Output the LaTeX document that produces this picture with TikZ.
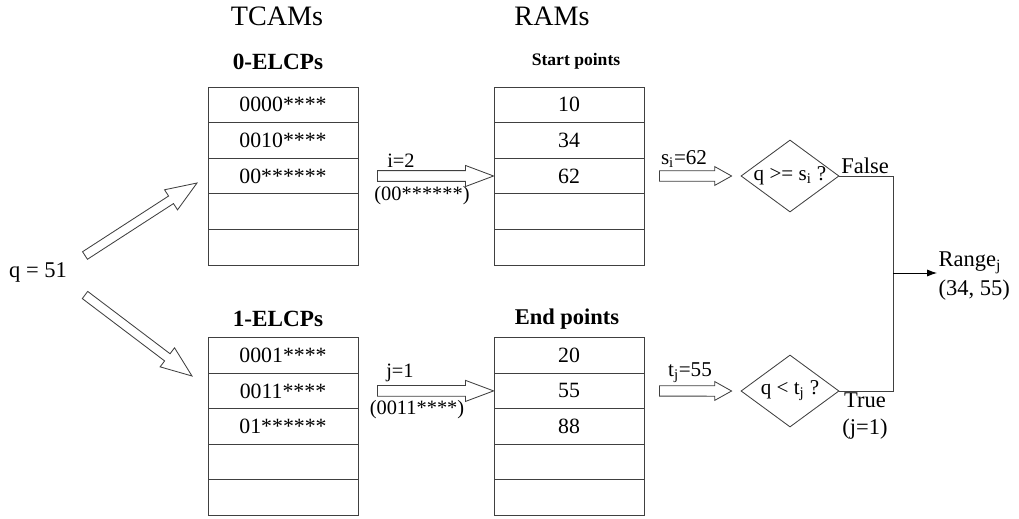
\documentclass[tikz,border=0pt]{standalone}
\usepackage{fontspec}
\setmainfont{Liberation Serif}
\usetikzlibrary{calc,shapes.geometric,arrows.meta}

\newcommand{\fsz}[1]{\fontsize{#1}{#1}\selectfont}
% hollow block arrow: tail, tip, shaft half width, head half width, head length
\newcommand{\blockarrow}[5]{%
  \coordinate (bh) at ($(#2)!#5!(#1)$);
  \draw[blockarr] ($(#1)!#3!90:(#2)$) -- ($(bh)!#3!90:(#2)$) -- ($(bh)!#4!90:(#2)$) -- (#2)
    -- ($(bh)!#4!-90:(#2)$) -- ($(bh)!#3!-90:(#2)$) -- ($(#1)!#3!-90:(#2)$) -- cycle;}

\begin{document}
\begin{tikzpicture}[x=0.025cm,y=-0.025cm,
  cell/.style={draw=black!75,line width=0.6pt,minimum width=3.75cm,minimum height=0.89cm,inner sep=0pt,font=\fsz{15.5}},
  blockarr/.style={draw=black!75,fill=white,line width=0.6pt,line join=miter},
  test/.style={diamond,draw=black!75,line width=0.6pt,aspect=1.36,minimum width=2.45cm,minimum height=1.8cm,inner sep=0pt,font=\fsz{15}},
  lbl/.style={inner sep=1pt,font=\fsz{14.5}},
  big/.style={inner sep=1pt,font=\fsz{16}}]

  \useasboundingbox (0,0) rectangle (1019,519);

  % Titulos
  \node[font=\fsz{20}] (tcam) at (277,16) {TCAMs};
  \node[font=\fsz{20}] (ram) at (552,16) {RAMs};
  \node[font=\bfseries\fsz{16.5}] (h0) at (278,62) {0-ELCPs};
  \node[font=\bfseries\fsz{12.5}] (hs) at (576,61) {Start points};
  \node[font=\bfseries\fsz{16.5}] (h1) at (278,319) {1-ELCPs};
  \node[font=\bfseries\fsz{16}] (he) at (567,319) {End points};

  % Tablas
  \foreach \t [count=\r] in {0000****,0010****,00******,{},{}}
    \node[cell] (a\r) at (283,{69.2+35.6*\r}) {\t};
  \foreach \t [count=\r] in {0001****,0011****,01******,{},{}}
    \node[cell] (b\r) at (283,{319.7+35.6*\r}) {\t};
  \foreach \t [count=\r] in {10,34,62,{},{}}
    \node[cell] (s\r) at (569,{69.2+35.6*\r}) {\t};
  \foreach \t [count=\r] in {20,55,88,{},{}}
    \node[cell] (e\r) at (569,{319.7+35.6*\r}) {\t};

  % Comparaciones
  \node[test] (d1) at (790,176) {\makebox[0pt]{q >= s\textsubscript{i} ?}};
  \node[test] (d2) at (790,391) {\makebox[0pt]{q < t\textsubscript{j} ?}};

  \node[font=\fsz{16}] (q) at (38,272) {q = 51};

  % Flechas
  \coordinate (up0) at (85,255.5);
  \coordinate (up1) at (197,183);
  \coordinate (dn0) at (85,295);
  \coordinate (dn1) at (192,376);
  \blockarrow{up0}{up1}{3.2pt}{8.5pt}{22pt}
  \blockarrow{dn0}{dn1}{3.2pt}{8.5pt}{22pt}

  \coordinate (i0) at ($(a3.east)+(19,0)$);
  \coordinate (j0) at ($(b2.east)+(19,0)$);
  \blockarrow{i0}{s3.west}{3.8pt}{7.5pt}{20pt}
  \blockarrow{j0}{e2.west}{3.8pt}{7.5pt}{20pt}

  \coordinate (si0) at ($(s3.east)+(15,0)$);
  \coordinate (si1) at ($(d1.west)+(-9,0)$);
  \coordinate (tj0) at ($(e2.east)+(15,0)$);
  \coordinate (tj1) at ($(d2.west)+(-9,0)$);
  \blockarrow{si0}{si1}{3.7pt}{6.7pt}{12pt}
  \blockarrow{tj0}{tj1}{3.7pt}{6.7pt}{12pt}

  \node[lbl] (il) at (401,161) {i=2};
  \node[lbl] (ip) at (422,196) {(00******)};
  \node[lbl] (jl) at (400,373) {j=1};
  \node[lbl] (jp) at (417,410) {(0011****)};
  \node[lbl,font=\fsz{15}] (sl) at (684,159) {s\textsubscript{i}=62};
  \node[lbl,font=\fsz{15}] (tl) at (690,373) {t\textsubscript{j}=55};

  % Resultado
  \node[big] (fa) at (865,166) {False};
  \node[big,align=center] (tr) at (865,416) {True\\[3pt](j=1)};
  \coordinate (jn) at (893,273);
  \node[big,anchor=west,align=left] (rng) at (937,276) {Range\textsubscript{j}\\[3pt](34, 55)};

  \draw[draw=black!75,line width=0.6pt] (d1.east) -- (d1.east -| jn) -- (d2.east -| jn) -- (d2.east);
  \draw[line width=0.6pt,-{Latex[length=7pt,width=5pt]}] (jn) -- (jn -| rng.west);

\end{tikzpicture}
\end{document}
